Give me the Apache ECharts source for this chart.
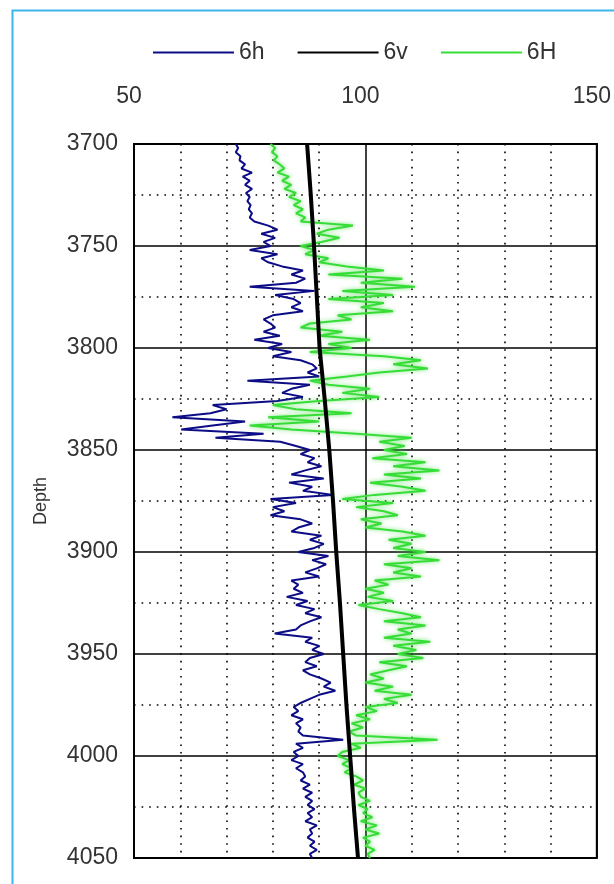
<!DOCTYPE html>
<html>
<head>
<meta charset="utf-8">
<script src="https://cdn.jsdelivr.net/npm/echarts@6/dist/echarts.min.js"></script>
<style>
  html, body { margin: 0; padding: 0; background: #fff; }
  #root { width: 614px; height: 884px; }
</style>
</head>
<body>
<div id="root"></div>
<script>
// depth sampling of the two logs (every 2 m from 3700 to 4050)
const DEPTH_START = 3700;
const DEPTH_STEP = 2;

const seriesNames = ['6h', '6v', '6H'];
const xTicks = [50, 100, 150];
const depthTicks = [3700, 3750, 3800, 3850, 3900, 3950, 4000, 4050];

// 6h log
const log6h = [
  72.0, 72.5, 72.0, 73.0, 72.8,   74.0, 73.2, 75.5, 73.5, 75.0,
  74.0, 75.5, 74.2, 75.0, 74.5,   75.2, 74.8, 75.5, 75.0, 76.0,
  79.0, 81.0, 77.5, 80.5, 78.0,   79.5, 75.0, 81.0, 77.5, 79.0,
  82.0, 86.5, 84.0, 87.0, 85.0,   75.0, 89.0, 80.5, 84.5, 86.0,
  84.0, 86.5, 80.0, 78.0, 79.5,   80.5, 78.0, 81.5, 76.0, 82.0,
  79.0, 84.0, 80.0, 86.0, 88.5,   89.5, 87.5, 90.0, 74.5, 88.0,
  84.0, 82.0, 86.5, 81.0, 67.0,   70.0, 66.5, 58.3, 74.0, 67.0,
  60.2, 78.0, 67.6, 81.6, 85.0,   88.0, 86.0, 89.0, 87.5, 90.5,
  87.0, 84.0, 91.0, 83.5, 88.5,   86.5, 93.0, 79.5, 85.0, 80.0,
  82.5, 79.5, 86.0, 88.5, 85.5,   84.0, 90.5, 88.0, 91.0, 89.0,
  85.5, 92.0, 88.5, 91.5, 89.5,   87.0, 90.0, 84.0, 85.5, 84.5,
  86.5, 83.0, 87.5, 85.0, 89.0,   87.0, 90.5, 88.0, 86.0, 85.0,
  80.4, 88.5, 87.0, 90.0, 88.5,   91.0, 88.0, 87.0, 89.5, 86.5,
  88.0, 90.5, 92.5, 91.0, 93.5,   90.0, 88.0, 86.0, 84.5, 85.5,
  84.0, 86.5, 85.0, 86.0, 85.5,   86.5, 95.2, 85.0, 86.5, 84.5,
  85.5, 84.0, 86.5, 85.0, 86.5,   87.0, 86.0, 88.0, 86.5, 88.5,
  87.0, 88.5, 87.5, 89.0, 87.5,   88.5, 87.0, 89.5, 88.0, 88.5,
  87.5, 89.0, 88.0, 89.5, 88.0, 88.5
];

// 6H log
const log6H = [
  79.5, 80.5, 79.8, 81.0, 80.2,   81.5, 82.5, 81.0, 83.5, 82.0,
  84.0, 82.5, 85.0, 83.5, 86.0,   84.5, 86.5, 85.0, 87.0, 86.0,
  97.3, 92.0, 89.5, 94.4, 90.5,   86.0, 89.0, 87.0, 92.0, 90.0,
  96.0, 104.0, 92.0, 108.0, 99.0, 110.7, 95.0, 106.0, 92.0, 104.0,
  99.0, 106.0, 94.0, 97.0, 88.0,  86.0, 95.0, 90.0, 101.0, 92.0,
  97.0, 88.0, 104.0, 112.0, 106.0, 113.5, 103.0, 96.0, 88.0, 92.0,
  101.0, 95.0, 103.0, 90.0, 80.0, 85.0, 97.0, 79.0, 90.0, 75.0,
  84.0, 98.0, 110.0, 103.0, 108.5, 104.0, 109.0, 101.5, 113.0, 106.0,
  116.0, 104.0, 112.0, 101.0, 108.0, 113.0, 102.0, 95.0, 106.0, 98.0,
  104.0, 107.0, 99.0, 103.5, 100.0, 108.0, 113.0, 105.0, 110.0, 106.0,
  113.0, 107.0, 116.0, 104.0, 110.0, 106.0, 112.0, 102.0, 105.0, 100.0,
  104.0, 100.5, 106.0, 98.5, 103.0, 108.0, 112.0, 104.0, 113.0, 107.0,
  110.0, 104.0, 114.0, 106.0, 111.0, 107.0, 112.5, 103.0, 109.0, 105.0,
  101.0, 104.0, 100.0, 106.0, 102.0, 110.0, 104.0, 107.0, 100.0, 102.5,
  98.0, 101.0, 97.0, 99.5, 96.5,   98.0, 115.6, 97.0, 99.0, 95.0,
  94.0, 96.5, 95.0, 97.0, 95.5,    98.0, 99.5, 97.5, 100.0, 98.5,
  99.0, 101.0, 98.5, 100.5, 99.5,  101.5, 99.0, 102.5, 100.0, 103.0,
  99.5, 101.0, 100.0, 102.0, 100.5, 101.0
];

// 6v trend
const depth6v = [3700, 3725, 3750, 3775, 3800, 3825, 3850, 3875, 3900, 3925, 3950, 3975, 4000, 4025, 4050];
const trend6v = [87.4, 88.2, 88.9, 89.5, 90.1, 91.2, 92.2, 93.0, 93.7, 94.5, 95.2, 95.9, 96.7, 97.5, 98.4];

function toPairs(values) {
  return values.map((v, i) => [v, DEPTH_START + i * DEPTH_STEP]);
}

const FONT = "'Liberation Sans', Arial, sans-serif";

const chart = echarts.init(document.getElementById('root'));
const option = {
  backgroundColor: '#fff',
  animation: false,
  graphic: [{
    type: 'rect',
    left: 10, top: 8,
    shape: { width: 700, height: 1000 },
    style: { fill: 'none', stroke: '#3cb5ee', lineWidth: 2 },
    silent: true
  }],
  legend: {
    data: seriesNames,
    left: 147,
    top: 36,
    itemWidth: 81,
    itemHeight: 14,
    itemGap: 32,
    itemStyle: { opacity: 0 },
    textStyle: { fontFamily: FONT, fontSize: 23, color: '#333' }
  },
  grid: {
    left: 134, top: 144, width: 471, height: 714,
    show: true, borderColor: '#000', borderWidth: 2, backgroundColor: 'transparent'
  },
  xAxis: {
    type: 'value',
    position: 'top',
    min: xTicks[0],
    max: xTicks[xTicks.length - 1],
    interval: 50,
    axisLine: { show: true, lineStyle: { color: '#000', width: 2 } },
    axisTick: { show: false },
    minorTick: { show: false, splitNumber: 5 },
    axisLabel: {
      margin: 36, fontFamily: FONT, fontSize: 23, color: '#333',
      padding: [0, 10, 0, 0]
    },
    splitLine: { show: true, lineStyle: { color: '#000', width: 1.5 } },
    minorSplitLine: { show: true, lineStyle: { color: '#000', width: 1.6, type: [1.6, 6] } }
  },
  yAxis: {
    type: 'value',
    inverse: true,
    min: depthTicks[0],
    max: depthTicks[depthTicks.length - 1],
    interval: 50,
    name: 'Depth',
    nameLocation: 'middle',
    nameGap: 84,
    nameTextStyle: { fontFamily: FONT, fontSize: 18, color: '#333' },
    axisLine: { show: true, lineStyle: { color: '#000', width: 2 } },
    axisTick: { show: false },
    minorTick: { show: false, splitNumber: 2 },
    axisLabel: {
      margin: 16, fontFamily: FONT, fontSize: 23, color: '#333',
      formatter: (v) => String(v)
    },
    splitLine: { show: true, lineStyle: { color: '#000', width: 1.5 } },
    minorSplitLine: { show: true, lineStyle: { color: '#000', width: 1.6, type: [1.6, 6] } }
  },
  series: [
    {
      name: '6h',
      type: 'line',
      data: toPairs(log6h),
      symbol: 'none',
      color: '#0c0c86',
      lineStyle: { width: 2, color: '#0c0c86' }
    },
    {
      name: '6v',
      type: 'line',
      data: depth6v.map((d, i) => [trend6v[i], d]),
      symbol: 'none',
      color: '#000',
      z: 4,
      lineStyle: { width: 4, color: '#000' }
    },
    {
      name: '6H',
      type: 'line',
      data: toPairs(log6H),
      symbol: 'none',
      color: '#36dd36',
      lineStyle: {
        width: 2, color: '#36dd36',
        shadowBlur: 4, shadowColor: 'rgba(60,220,60,0.7)'
      }
    }
  ]
};
chart.setOption(option);
</script>
</body>
</html>
